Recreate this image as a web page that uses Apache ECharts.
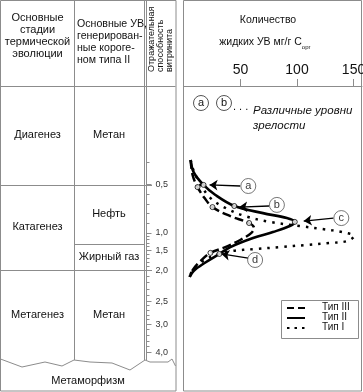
<!DOCTYPE html>
<html><head><meta charset="utf-8">
<script src="https://cdn.jsdelivr.net/npm/echarts@6/dist/echarts.min.js"></script>
<style>html,body{margin:0;padding:0;background:#fff}#c{width:363px;height:392px}</style>
</head><body><div id="c"></div>
<script>
// ---------- data ----------
// curves: [amount of liquid HC (mg/g Corg), maturity index (0 = top, 100 = bottom)]
const typeII = [[5.9,27.0],[8.5,31.4],[17.3,36.1],[27.8,39.8],[44.5,43.8],[69.9,46.4],[91.0,48.2],[98.0,49.6],[93.6,51.1],[78.7,53.3],[61.1,55.5],[41.0,58.8],[31.3,61.3],[18.2,64.6],[8.5,67.5],[5.0,69.7]];
const typeIII = [[5.9,27.0],[7.6,32.5],[12.0,36.9],[18.2,40.9],[25.2,44.2],[41.0,47.5],[57.6,50.0],[62.0,51.8],[59.4,53.7],[49.7,56.2],[36.6,58.8],[23.4,60.9],[13.8,64.2],[7.6,67.2],[5.0,69.7]];
const typeI = [[5.9,27.0],[7.6,29.9],[13.8,35.4],[23.4,40.9],[36.6,44.5],[54.1,47.5],[76.0,49.6],[102.3,51.1],[122.5,52.2],[140.0,53.3],[150.5,54.8],[144.4,56.6],[128.7,57.3],[108.5,58.0],[84.8,58.8],[62.9,59.5],[42.7,60.2],[27.8,61.7],[15.5,64.2],[7.6,67.2],[5.0,69.7]];
const markersII = [[17.3,36.1],[44.5,43.8],[98.0,49.6],[31.3,61.3]];
const markersIII = [[12.0,36.9],[25.2,44.2],[57.6,50.0],[23.4,60.9]];
const levelLabels = ['a','b','c','d'];
const levelCircles = [[56.9,36.5],[82.2,43.4],[139.2,48.2],[62.9,63.5]];
const arrowTails = [[49.7,36.5],[75.2,43.8],[132.2,48.2],[56.8,62.8]];
const arrowHeads = [[22.6,36.1],[48.9,44.2],[105.9,49.3],[33.1,61.3]];
const amountTicks = [50,100,150];
const vitriniteLabels = ['0,5','1,0','1,5','2,0','2,5','3,0','4,0'];
const vitrinitePos = [36,53.6,59.9,67.2,78.5,86.9,97.1];
const vitriniteMinorPos = [27.7,39.5,43.0,46.5,50.1,54.9,56.1,57.4,58.6,61.4,62.8,64.3,65.7,69.5,71.7,74.0,76.2,80.2,81.9,83.5,85.2,88.9,91.0,93.0,95.1];
const stageNames = ['Диагенез','Катагенез','Метагенез'];
const stageBounds = [0,36,67.2,100];
const productNames = ['Метан','Нефть','Жирный газ','Метан'];
const productBounds = [0,36,57.7,67.2,100];
const seriesNames = ['Тип III','Тип II','Тип I'];

// ---------- chart ----------
const chart = echarts.init(document.getElementById('c'));
const FONT = '"Liberation Sans", Arial, Helvetica, sans-serif';
const LINE = '#8c8c8c';
const TEXT = '#111';

chart.setOption({
  animation:false,
  backgroundColor:'#fff',
  grid:[
    {left:184, top:86, width:178, height:274, outerBoundsMode:'none'},
    {left:146.5, top:86, width:29, height:274, outerBoundsMode:'none'}
  ],
  xAxis:[
    {gridIndex:0, type:'value', position:'top', min:0, max:157.5, interval:50,
     axisLine:{show:true, lineStyle:{color:LINE, width:1}},
     axisTick:{show:true, length:7, customValues:amountTicks, lineStyle:{color:LINE}},
     axisLabel:{customValues:amountTicks, fontSize:14, color:TEXT, margin:9, fontFamily:FONT},
     splitLine:{show:false}},
    {gridIndex:1, type:'value', show:false, min:0, max:1}
  ],
  yAxis:[
    {gridIndex:0, type:'value', inverse:true, min:0, max:100, show:false},
    {gridIndex:1, type:'value', inverse:true, min:0, max:100, position:'left',
     axisLine:{show:false},
     axisTick:{show:true, inside:true, length:5, customValues:vitrinitePos, lineStyle:{color:LINE}},
     axisLabel:{show:true, inside:true, margin:9, customValues:vitrinitePos,
       formatter:v=>{const i=vitrinitePos.indexOf(v);return i<0?'':vitriniteLabels[i];},
       fontSize:9, color:'#333', fontFamily:FONT},
     splitLine:{show:false}},
    {gridIndex:1, type:'value', inverse:true, min:0, max:100, position:'left',
     axisLine:{show:false},
     axisTick:{show:true, inside:true, length:3, customValues:vitriniteMinorPos, lineStyle:{color:LINE}},
     axisLabel:{show:false}, splitLine:{show:false}}
  ],
  series:[
    {name:seriesNames[0], type:'line', xAxisIndex:0, yAxisIndex:0, data:typeIII, smooth:0.35, showSymbol:false,
     lineStyle:{color:'#000', width:2.5, type:[9,4]}, z:3},
    {name:seriesNames[1], type:'line', xAxisIndex:0, yAxisIndex:0, data:typeII, smooth:0.35, showSymbol:false,
     lineStyle:{color:'#000', width:2.6}, z:3},
    {name:seriesNames[2], type:'line', xAxisIndex:0, yAxisIndex:0, data:typeI, smooth:0.35, showSymbol:false,
     lineStyle:{color:'#000', width:2.5, type:[2.5,6]}, z:3},
    {type:'scatter', xAxisIndex:0, yAxisIndex:0, data:markersII.concat(markersIII), symbol:'circle', symbolSize:5,
     itemStyle:{color:'#fff', borderColor:'#000', borderWidth:1}, z:5},
    {type:'lines', coordinateSystem:'cartesian2d', xAxisIndex:0, yAxisIndex:0,
     data:arrowTails.map((t,i)=>({coords:[t,arrowHeads[i]]})),
     symbol:['none','arrow'], symbolSize:[0,8], lineStyle:{color:'#000', width:1.3, opacity:1}, z:4},
    {type:'scatter', xAxisIndex:0, yAxisIndex:0,
     data:levelCircles.map((p,i)=>({value:p, name:levelLabels[i]})), symbolSize:15,
     itemStyle:{color:'#fff', borderColor:'#555', borderWidth:1},
     label:{show:true, position:'inside', formatter:'{b}', fontSize:11, color:'#000', fontFamily:FONT}, z:6}
  ]
});

// ---------- table / annotations positioned through the maturity scale ----------
const py = v => chart.convertToPixel({yAxisIndex:1}, v);
const g = [];
const L = (x1,y1,x2,y2,extra) => g.push(Object.assign({type:'line', shape:{x1,y1,x2,y2}, style:{stroke:LINE, lineWidth:1}}, extra||{}));
const T = (x,y,text,st) => g.push({type:'text', x, y, style:Object.assign({text, fontSize:11, fontFamily:FONT, fill:TEXT, align:'center', verticalAlign:'middle'}, st||{})});

// panels
g.push({type:'rect', shape:{x:0.5,y:0.5,width:175.5,height:390.5}, style:{fill:'none', stroke:LINE, lineWidth:1}});
g.push({type:'rect', shape:{x:183.5,y:0.5,width:178,height:390.5}, style:{fill:'none', stroke:LINE, lineWidth:1}});
// header separator
L(0.5,86.5,175.5,86.5);
// column lines
L(74.5,0.5,74.5,360);
L(144.5,0.5,144.5,360);
L(146.5,0.5,146.5,360);
// wavy bottom
g.push({type:'polyline', shape:{points:[[0.5,359],[22,367],[45,362],[62,366],[74,360],[90,362],[112,363],[130,370],[145,360],[150,362],[168,362],[172,359],[175.5,366]]},
  style:{fill:'none', stroke:LINE, lineWidth:1}});
// stage boundaries
for (let i=1;i<stageBounds.length-1;i++){ const y=Math.round(py(stageBounds[i]))+0.5; L(0.5,y,152,y); }
for (let i=1;i<productBounds.length-1;i++){
  if (stageBounds.indexOf(productBounds[i])>=0) continue;
  const y=Math.round(py(productBounds[i]))+0.5; L(74.5,y,144.5,y);
}
// stage and product labels
for (let i=0;i<stageNames.length;i++) T(37.5,(py(stageBounds[i])+py(stageBounds[i+1]))/2,stageNames[i]);
for (let i=0;i<productNames.length;i++) T(109,(py(productBounds[i])+py(productBounds[i+1]))/2,productNames[i]);
// headers
T(37.5,36,'Основные\nстадии\nтермической\nэволюции',{lineHeight:12});
T(77,42.5,'Основные УВ,\nгенерирован-\nные короге-\nном типа II',{lineHeight:12, align:'left', fontSize:10.6});
['Отражательная','способность','витринита'].forEach((s,i)=>{
  g.push({type:'text', x:[151.5,161,170][i], y:72, rotation:Math.PI/2,
    style:{text:s, fontSize:9, fontFamily:FONT, fill:TEXT, align:'left', verticalAlign:'middle'}});
});
T(88,381,'Метаморфизм');
// right panel title
T(268,20,'Количество',{fontSize:10.5});
T(265,42,'жидких УВ мг/г C{s|орг}',{fontSize:10.5, rich:{s:{fontSize:6, verticalAlign:'bottom', lineHeight:16}}});
// maturity-level key
[[201,103,'a'],[224,103,'b']].forEach(([cx,cy,t])=>{
  g.push({type:'circle', shape:{cx,cy,r:7.5}, style:{fill:'#fff', stroke:'#555', lineWidth:1}});
  T(cx,cy,t);
});
T(233,107,'. . .',{align:'left', fontSize:11});
T(253,103,'Различные уровни\nзрелости',{align:'left', fontSize:11.5, fontStyle:'italic', lineHeight:15, verticalAlign:'top'});
// legend
g.push({type:'rect', shape:{x:281.5,y:300.5,width:77,height:38}, style:{fill:'#fff', stroke:LINE, lineWidth:1}});
const legY=[308,318,328], dashes=[[7,4],null,[2.5,5]];
seriesNames.forEach((n,i)=>{
  g.push({type:'line', shape:{x1:287,y1:legY[i],x2:305,y2:legY[i]}, style:{stroke:'#000', lineWidth:2, lineDash:dashes[i]}});
  T(322,legY[i]-1,n,{align:'left', fontSize:10});
});
chart.setOption({graphic:{elements:g}});
</script></body></html>
